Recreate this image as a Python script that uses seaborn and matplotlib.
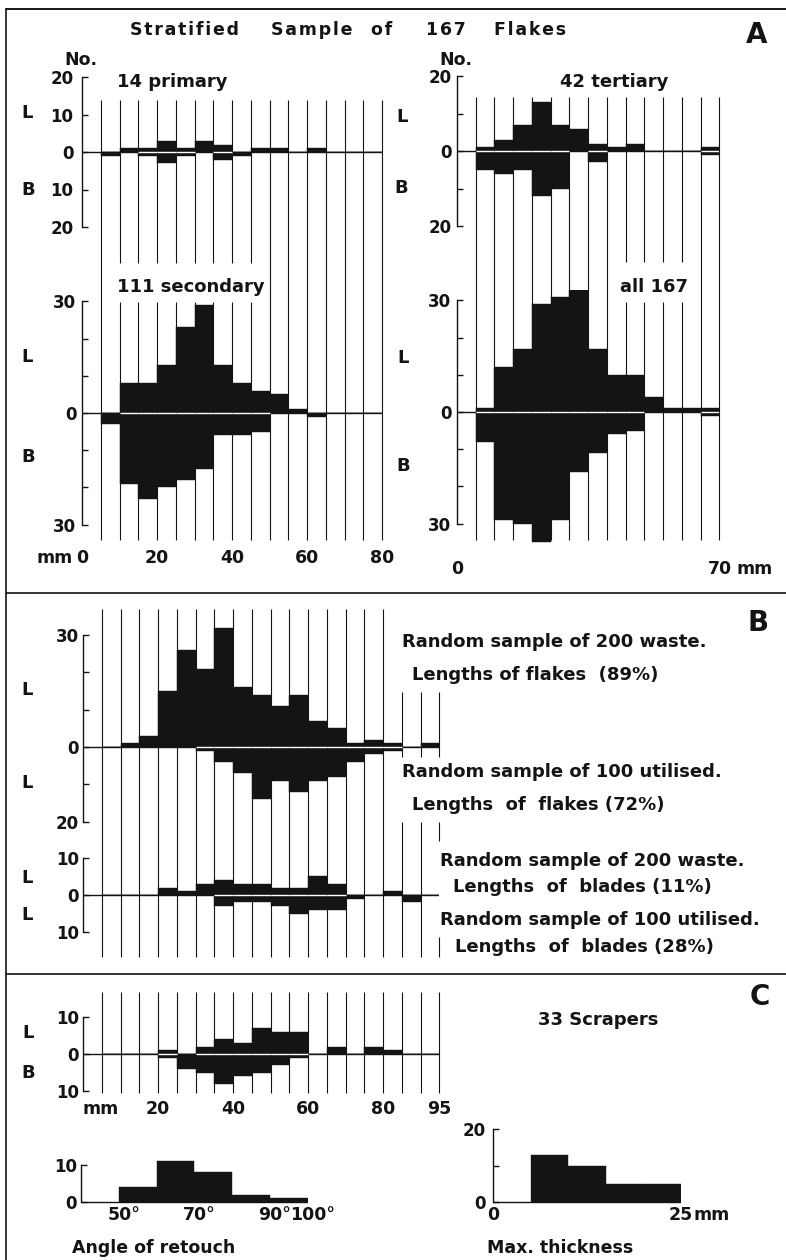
import numpy as np
import pandas as pd
import matplotlib
matplotlib.use("Agg")
import matplotlib.pyplot as plt
import matplotlib.transforms as mtransforms
from matplotlib.lines import Line2D
import seaborn as sns

# ---------------- data: counts per class, L = up, B = down ----------------
# Panel A (stratified sample of 167 flakes), 5 mm classes
edges_a_left = [5, 10, 15, 20, 25, 30, 35, 40, 45, 50, 55, 60, 65, 70, 75, 80]
primary_L = [0, 1, 1, 3, 1, 3, 2, 0, 1, 1, 0, 1, 0, 0, 0]
primary_B = [1, 0, 1, 3, 1, 0, 2, 1, 0, 0, 0, 0, 0, 0, 0]
secondary_L = [0, 8, 8, 13, 23, 29, 13, 8, 6, 5, 1, 0, 0, 0, 0]
secondary_B = [3, 19, 23, 20, 18, 15, 6, 6, 5, 0, 0, 1, 0, 0, 0]

edges_a_right = [5, 10, 15, 20, 25, 30, 35, 40, 45, 50, 55, 60, 65, 70]
tertiary_L = [1, 3, 7, 13, 7, 6, 2, 1, 2, 0, 0, 0, 1]
tertiary_B = [5, 6, 5, 12, 10, 0, 3, 0, 0, 0, 0, 0, 1]
all_L = [1, 12, 17, 29, 31, 38, 17, 10, 10, 4, 1, 1, 1]
all_B = [8, 29, 30, 35, 29, 16, 11, 6, 5, 0, 0, 0, 1]

# Panel B (random samples), lengths only
edges_b = [5, 10, 15, 20, 25, 30, 35, 40, 45, 50, 55, 60, 65, 70, 75, 80, 85, 90, 95]
waste_flakes = [0, 1, 3, 15, 26, 21, 32, 16, 14, 11, 14, 7, 5, 1, 2, 1, 0, 1]
utilised_flakes = [0, 0, 0, 0, 0, 1, 4, 7, 14, 9, 12, 9, 8, 4, 2, 1, 0, 0]
waste_blades = [0, 0, 0, 2, 1, 3, 4, 3, 3, 2, 2, 5, 3, 0, 0, 1, 0, 0]
utilised_blades = [0, 0, 0, 0, 0, 0, 3, 2, 2, 3, 5, 4, 4, 1, 0, 0, 2, 0]

# Panel C (33 scrapers)
scraper_L = [0, 0, 0, 1, 0, 2, 4, 3, 7, 6, 6, 0, 2, 0, 2, 1, 0, 0]
scraper_B = [0, 0, 0, 1, 4, 5, 8, 6, 5, 3, 1, 0, 0, 0, 0, 0, 0, 0]
angle_edges = [50, 60, 70, 80, 90, 100]
angle_counts = [4, 11, 8, 2, 1]
thick_edges = [5, 10, 15, 20, 25]
thick_counts = [13, 10, 5, 5]

# ---------------- figure ----------------
W, H = 786, 1260
sns.set_style("white")
plt.rcParams["font.family"] = ["DejaVu Sans"]
INK = "#141414"

fig = plt.figure(figsize=(W / 100, H / 100), dpi=100)


def ftext(x, y, s, size=13, ha="center", va="center"):
    fig.text(x / W, 1 - y / H, s, fontsize=size, ha=ha, va=va,
             fontweight="bold", color=INK)


def spaced(word):
    return "\u200a".join(word)


def make_chart(spine_x, zero_y, x_lo, x_hi, ppx, ppu, top, bot):
    right = spine_x + (x_hi - x_lo) * ppx
    ax = fig.add_axes([spine_x / W, 1 - bot / H, (right - spine_x) / W, (bot - top) / H])
    ax.lim = (x_lo, x_hi, (zero_y - bot) / ppu, (zero_y - top) / ppu)
    ax.py = lambda p: (zero_y - p) / ppu
    return ax


def finish(ax, ticks, labels, pad=4):
    x_lo, x_hi, y_lo, y_hi = ax.lim
    ax.set_xlim(x_lo, x_hi)
    ax.set_ylim(y_lo, y_hi)
    ax.patch.set_visible(False)
    for s in ["top", "right", "bottom"]:
        ax.spines[s].set_visible(False)
    ax.spines["left"].set_linewidth(1.0)
    ax.spines["left"].set_color(INK)
    ax.spines["left"].set_bounds(min(ticks), max(ticks))
    ax.set_yticks(ticks)
    ax.set_yticklabels(labels, fontweight="bold", color=INK)
    ax.tick_params(axis="y", direction="in", length=4, width=1.0, labelsize=12,
                   pad=pad, colors=INK, left=True)
    ax.set_xticks([])
    ax.set_xlabel("")
    ax.set_ylabel("")
    ax.grid(False)


def hist(ax, edges, counts, sign=1):
    e = list(edges)
    mids = [(a + b) / 2 for a, b in zip(e[:-1], e[1:])]
    df = pd.DataFrame({"mid": mids, "n": [sign * c for c in counts]})
    sns.histplot(data=df, x="mid", weights="n", bins=e, ax=ax, color=INK,
                 alpha=1, edgecolor=INK, linewidth=0.3, zorder=3)


def bars(ax, edges, up, down=None):
    e = np.asarray(edges, float)
    hist(ax, edges, up, 1)
    ax.hlines(0, ax.lim[0], e[-1], color=INK, lw=1.0, zorder=2)
    if down is not None:
        hist(ax, edges, down, -1)
        both = (np.asarray(up) > 0) & (np.asarray(down) > 0)
        if both.any():
            ax.hlines(np.zeros(both.sum()), e[:-1][both], e[1:][both],
                      color="white", lw=1.0, zorder=4)


def vlines(ax, xs, top_px, bot_px):
    ax.vlines(xs, ax.py(bot_px), ax.py(top_px), color=INK, lw=0.8, zorder=1, clip_on=False)


def xlabels(ax, vals, labels, y_px, dx=0, size=12.5):
    tr = mtransforms.blended_transform_factory(ax.transData, fig.transFigure)
    tr = tr + mtransforms.ScaledTranslation(dx / 100, 0, fig.dpi_scale_trans)
    for v, s in zip(vals, labels):
        ax.text(v, 1 - y_px / H, s, transform=tr, ha="center", va="center",
                fontsize=size, fontweight="bold", color=INK)


# ---------------- panel A ----------------
a_tl = make_chart(82, 152, 0, 80, 3.75, 3.75, 70, 545)
bars(a_tl, edges_a_left, primary_L, primary_B)
broken_l = [e for e in edges_a_left if 10 <= e <= 45]
solid_l = [e for e in edges_a_left if e not in broken_l]
vlines(a_tl, solid_l, 100, 540)
vlines(a_tl, broken_l, 100, 263)
vlines(a_tl, broken_l, 302, 540)
finish(a_tl, [-20, -10, 0, 10, 20], ["20", "10", "0", "10", "20"], pad=6)

a_bl = make_chart(82, 413, 0, 80, 3.75, 3.72, 290, 546)
bars(a_bl, edges_a_left, secondary_L, secondary_B)
finish(a_bl, [-30, -20, -10, 0, 10, 20, 30], ["30", "", "", "0", "", "", "30"])
xlabels(a_bl, [0, 20, 40, 60, 80], ["0", "20", "40", "60", "80"], 558)

a_tr = make_chart(457, 151, 0, 70, 3.75, 3.75, 70, 545)
bars(a_tr, edges_a_right, tertiary_L, tertiary_B)
broken_r = [45, 50, 55, 60]
solid_r = [e for e in edges_a_right if e not in broken_r]
vlines(a_tr, solid_r, 97, 540)
vlines(a_tr, broken_r, 97, 262)
vlines(a_tr, broken_r, 302, 540)
finish(a_tr, [-20, -10, 0, 10, 20], ["20", "", "0", "", "20"])

a_br = make_chart(457, 412, 0, 70, 3.75, 3.72, 290, 546)
bars(a_br, edges_a_right, all_L, all_B)
finish(a_br, [-30, -20, -10, 0, 10, 20, 30], ["30", "", "", "0", "", "", "30"])
xlabels(a_br, [0, 70], ["0", "70"], 569)

ftext(55, 558, "mm", 12.5)
ftext(755, 569, "mm", 12.5)
ftext(81, 60, "No.", 12.5)
ftext(456, 60, "No.", 12.5)
ftext(117, 82, "14 primary", 13, ha="left")
ftext(560, 82, "42 tertiary", 13, ha="left")
ftext(117, 287, "111 secondary", 13, ha="left")
ftext(620, 287, "all 167", 13, ha="left")
for x, y, s in [(27, 113, "L"), (28, 190, "B"), (402, 117, "L"), (401, 188, "B"),
                (27, 357, "L"), (28, 457, "B"), (403, 358, "L"), (403, 466, "B")]:
    ftext(x, y, s, 13)

for cx, w in [(184, "Stratified"), (312, "Sample"), (382, "of"), (446, "167"), (530, "Flakes")]:
    ftext(cx, 30, spaced(w), 12.5)
ftext(757, 35, "A", 20)

# ---------------- panel B ----------------
b_fl = make_chart(83, 747, 0, 95, 3.75, 3.73, 600, 962)
bars(b_fl, edges_b, waste_flakes, utilised_flakes)
vlines(b_fl, edges_b[:16], 609, 957)
vlines(b_fl, edges_b[16:], 692, 757)
vlines(b_fl, edges_b[16:18], 822, 957)
vlines(b_fl, edges_b[18:], 822, 841)
vlines(b_fl, edges_b[18:], 937, 957)
finish(b_fl, [-20, -10, 0, 10, 20, 30], ["20", "", "0", "", "", "30"], pad=3)

b_bl = make_chart(83, 895, 0, 95, 3.75, 3.73, 840, 962)
bars(b_bl, edges_b, waste_blades, utilised_blades)
finish(b_bl, [-10, 0, 10], ["10", "0", "10"], pad=3)

for x, y in [(27, 690), (27, 783), (27, 878), (27, 915)]:
    ftext(x, y, "L", 13)
ftext(402, 642, "Random sample of 200 waste.", 13, ha="left")
ftext(412, 675, "Lengths of flakes  (89%)", 13, ha="left")
ftext(402, 772, "Random sample of 100 utilised.", 13, ha="left")
ftext(412, 805, "Lengths  of  flakes (72%)", 13, ha="left")
ftext(440, 861, "Random sample of 200 waste.", 13, ha="left")
ftext(453, 887, "Lengths  of  blades (11%)", 13, ha="left")
ftext(440, 920, "Random sample of 100 utilised.", 13, ha="left")
ftext(455, 947, "Lengths  of  blades (28%)", 13, ha="left")
ftext(758, 623, "B", 20)

# ---------------- panel C ----------------
c_top = make_chart(83, 1054, 0, 95, 3.75, 3.72, 985, 1100)
bars(c_top, edges_b, scraper_L, scraper_B)
vlines(c_top, edges_b, 992, 1093)
finish(c_top, [-10, 0, 10], ["10", "0", "10"], pad=3)
xlabels(c_top, [20, 40, 60, 80, 95], ["20", "40", "60", "80", "95"], 1109)
ftext(101, 1109, "mm", 12.5)
for x, y, s in [(28, 1033, "L"), (28, 1073, "B")]:
    ftext(x, y, s, 13)

c_ang = make_chart(81, 1202, 40, 100, 3.78, 3.7, 1150, 1210)
bars(c_ang, angle_edges, angle_counts)
finish(c_ang, [0, 10], ["0", "10"], pad=3)
xlabels(c_ang, [50, 70, 90, 100], ["50°", "70°", "90°", "100°"], 1215, dx=5)

c_thk = make_chart(493, 1202, 0, 25, 7.5, 3.65, 1120, 1210)
bars(c_thk, thick_edges, thick_counts)
finish(c_thk, [0, 10, 20], ["0", "", "20"], pad=5)
xlabels(c_thk, [0, 25], ["0", "25"], 1215)
ftext(712, 1215, "mm", 12.5)

ftext(598, 1020, "33 Scrapers", 13)
ftext(72, 1248, "Angle of retouch", 12.5, ha="left")
ftext(487, 1248, "Max. thickness", 12.5, ha="left")
ftext(760, 997, "C", 20)

# ---------------- frame ----------------
def fline(xs, ys, lw=1.2):
    fig.add_artist(Line2D([x / W for x in xs], [1 - y / H for y in ys],
                          transform=fig.transFigure, color=INK, lw=lw))

fline([6.5, 6.5], [9, 1260])
fline([6, 786], [9, 9], lw=1.4)
fline([6, 786], [593, 593])
fline([6, 786], [974, 974])

fig.savefig("out.png", dpi=100, facecolor="white")
